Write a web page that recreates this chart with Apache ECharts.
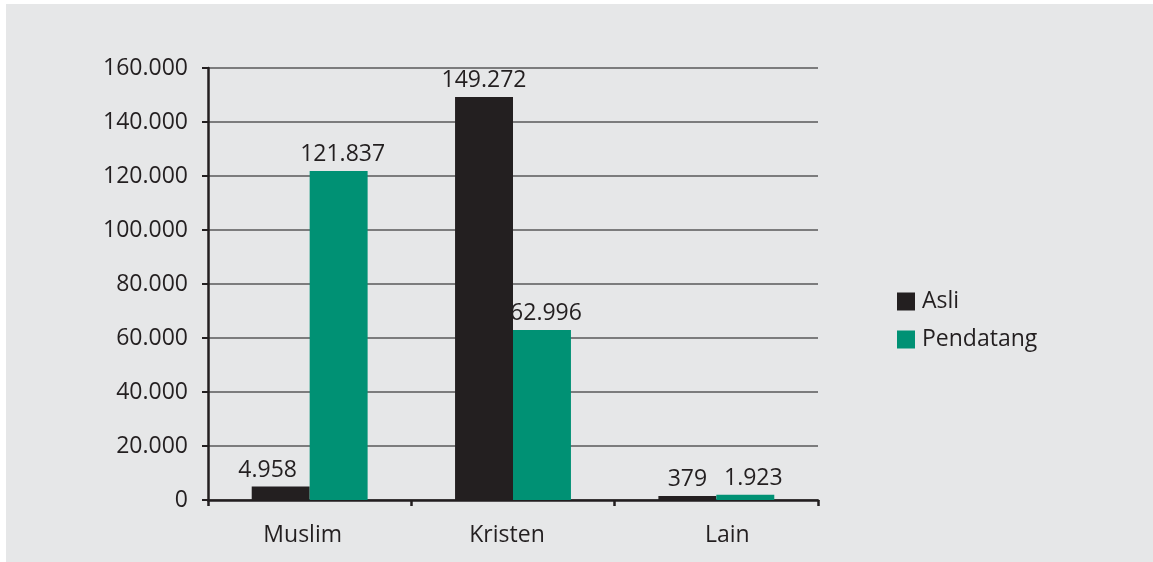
<!DOCTYPE html>
<html>
<head>
<meta charset="utf-8">
<script src="https://cdn.jsdelivr.net/npm/echarts@6/dist/echarts.min.js"></script>
<style>
html,body{margin:0;padding:0;background:#ffffff;}
#c{position:absolute;left:6px;top:4px;width:1147px;height:558px;}
</style>
</head>
<body>
<div id="c"></div>
<script>
const categories = ['Muslim', 'Kristen', 'Lain'];
const seriesNames = ['Asli', 'Pendatang'];
const asliValues = [4958, 149272, 379];
const pendatangValues = [121837, 62996, 1923];
const labelOffsetsAsli = [-13, 0, 0];
const labelOffsetsPendatang = [4, 4, 8];
const catLabelShift = [-7, -6, 11];

const FONT = "'Open Sans', 'Noto Sans', sans-serif";
const TXT = '#231f20';
const FS = 23;

function fmt(v) {
  return String(Math.round(v)).replace(/\B(?=(\d{3})+(?!\d))/g, '.');
}

function buildData(vals, offs) {
  return vals.map((v, i) => ({ value: v, label: { offset: [offs[i], 0] } }));
}

const catData = categories.map((c, i) => {
  const s = catLabelShift[i];
  return { value: c, textStyle: { padding: s < 0 ? [0, -2 * s, 0, 0] : [0, 0, 0, 2 * s] } };
});

const chart = echarts.init(document.getElementById('c'), null, { renderer: 'canvas' });
chart.setOption({
  backgroundColor: '#e6e7e8',
  animation: false,
  textStyle: { fontFamily: FONT },
  grid: { left: 202, top: 64, right: 335, bottom: 62, containLabel: false },
  legend: {
    orient: 'vertical',
    left: 886,
    top: 281,
    itemWidth: 18,
    itemHeight: 18,
    itemGap: 15,
    icon: 'rect',
    data: seriesNames,
    textStyle: { fontFamily: FONT, fontSize: FS, color: TXT, padding: [0, 0, 0, 2] }
  },
  xAxis: {
    type: 'category',
    data: catData,
    axisLine: { show: true, lineStyle: { color: TXT, width: 2.5 } },
    axisTick: { show: true, alignWithLabel: false, length: 6, lineStyle: { color: TXT, width: 2.5 } },
    axisLabel: { fontFamily: FONT, fontSize: FS, color: TXT, margin: 24 },
    splitLine: { show: false }
  },
  yAxis: {
    type: 'value',
    min: 0,
    max: 160000,
    interval: 20000,
    axisLine: { show: true, lineStyle: { color: TXT, width: 2.5 } },
    axisTick: { show: true, inside: false, length: 6, lineStyle: { color: TXT, width: 2 } },
    axisLabel: { fontFamily: FONT, fontSize: FS, color: TXT, margin: 20, formatter: v => fmt(v) },
    splitLine: { show: true, lineStyle: { color: '#58585a', width: 1.5 } }
  },
  series: [
    {
      name: seriesNames[0],
      type: 'bar',
      data: buildData(asliValues, labelOffsetsAsli),
      barGap: '0%',
      barCategoryGap: '43%',
      barMinHeight: 4,
      itemStyle: { color: '#231f20' },
      label: { show: true, position: 'top', distance: 5, fontFamily: FONT, fontSize: FS, color: TXT, formatter: p => fmt(p.value) }
    },
    {
      name: seriesNames[1],
      type: 'bar',
      data: buildData(pendatangValues, labelOffsetsPendatang),
      barGap: '0%',
      barCategoryGap: '43%',
      barMinHeight: 4,
      itemStyle: { color: '#009174' },
      label: { show: true, position: 'top', distance: 5, fontFamily: FONT, fontSize: FS, color: TXT, formatter: p => fmt(p.value) }
    }
  ]
});
</script>
</body>
</html>
